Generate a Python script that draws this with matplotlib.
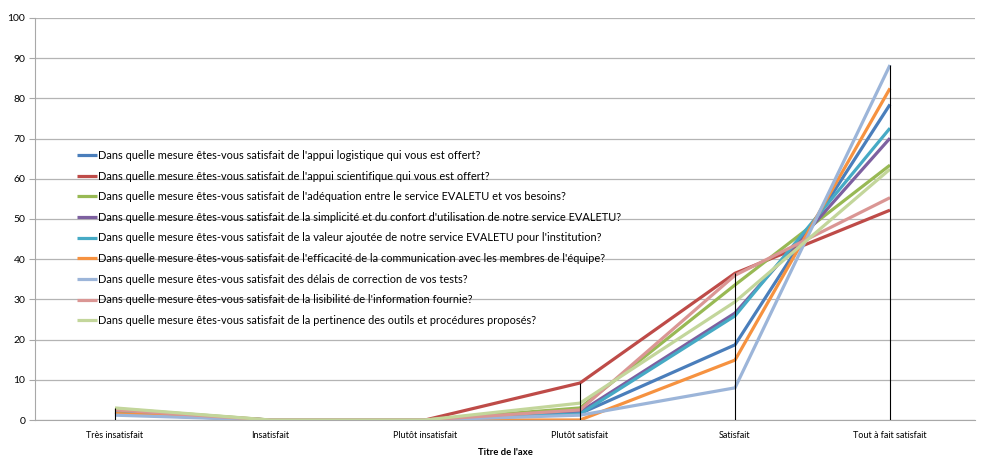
import matplotlib.pyplot as plt
import numpy as np

plt.rcParams['font.family'] = ['Lato', 'DejaVu Sans']

categories = ["Très insatisfait", "Insatisfait", "Plutôt insatisfait",
              "Plutôt satisfait", "Satisfait", "Tout à fait satisfait"]

labels = [
    "Dans quelle mesure êtes-vous satisfait de l'appui logistique qui vous est offert?",
    "Dans quelle mesure êtes-vous satisfait de l'appui scientifique qui vous est offert?",
    "Dans quelle mesure êtes-vous satisfait de l'adéquation entre le service EVALETU et vos besoins?",
    "Dans quelle mesure êtes-vous satisfait de la simplicité et du confort d'utilisation de notre service EVALETU?",
    "Dans quelle mesure êtes-vous satisfait de la valeur ajoutée de notre service EVALETU pour l'institution?",
    "Dans quelle mesure êtes-vous satisfait de l'efficacité de la communication avec les membres de l'équipe?",
    "Dans quelle mesure êtes-vous satisfait des délais de correction de vos tests?",
    "Dans quelle mesure êtes-vous satisfait de la lisibilité de l'information fournie?",
    "Dans quelle mesure êtes-vous satisfait de la pertinence des outils et procédures proposés?",
]

logistique   = [1.5, 0, 0, 1.6, 18.7, 78.5]
scientifique = [1.9, 0, 0, 9.2, 36.5, 52.2]
adequation   = [2.8, 0, 0, 3.0, 33.6, 63.4]
simplicite   = [2.0, 0, 0, 2.0, 26.6, 70.1]
valeur       = [2.0, 0, 0, 1.5, 25.9, 72.6]
efficacite   = [1.6, 0, 0, 0.0, 14.9, 82.5]
delais       = [1.2, 0, 0, 1.2, 8.0, 88.3]
lisibilite   = [2.5, 0, 0, 2.5, 36.0, 55.3]
pertinence   = [3.0, 0, 0, 4.2, 29.4, 62.4]

series = [logistique, scientifique, adequation, simplicite, valeur,
          efficacite, delais, lisibilite, pertinence]
colors = ["#4A7EBB", "#BE4B48", "#98B954", "#7D60A0", "#46AAC5",
          "#F69240", "#9CB5D9", "#DA9694", "#C3D69B"]

fig = plt.figure(figsize=(9.84, 4.7), dpi=100)
ax = fig.add_axes([35 / 984, 1 - 420 / 470, 940 / 984, 402 / 470])

x = np.arange(len(categories))
for vals, c, lab in zip(series, colors, labels):
    ax.plot(x, vals, color=c, lw=2.3, label=lab, solid_capstyle='butt')

# drop lines from the highest value down to the axis
tops = np.max(np.array(series), axis=0)
ax.vlines(x, 0, tops, color="black", lw=0.8, zorder=5)

ax.set_xlim(-(115 - 35) / 155, 5 + (975 - 890) / 155)
ax.set_ylim(0, 100)
ax.set_yticks(range(0, 101, 10))
ax.set_xticks(x)
ax.set_xticklabels(categories, fontsize=6.5)
ax.tick_params(axis='x', length=0, pad=8)
ax.tick_params(axis='y', length=4, color="#a8a8a8", labelsize=7.5, pad=3)
ax.yaxis.grid(True, color="#b4b4b4", lw=0.9)
ax.set_axisbelow(True)
for s in ["top", "right"]:
    ax.spines[s].set_visible(False)
ax.spines["left"].set_color("#a8a8a8")
ax.spines["bottom"].set_color("#a8a8a8")

ax.set_xlabel("Titre de l'axe", fontsize=6.8, fontweight="bold", labelpad=6)

ax.legend(loc="upper left", bbox_to_anchor=(0.045, 0.672), frameon=False,
          fontsize=7.9, handlelength=1.75, handletextpad=0.15, labelspacing=0.88,
          borderpad=0, borderaxespad=0)

fig.savefig("out.png", dpi=100)
